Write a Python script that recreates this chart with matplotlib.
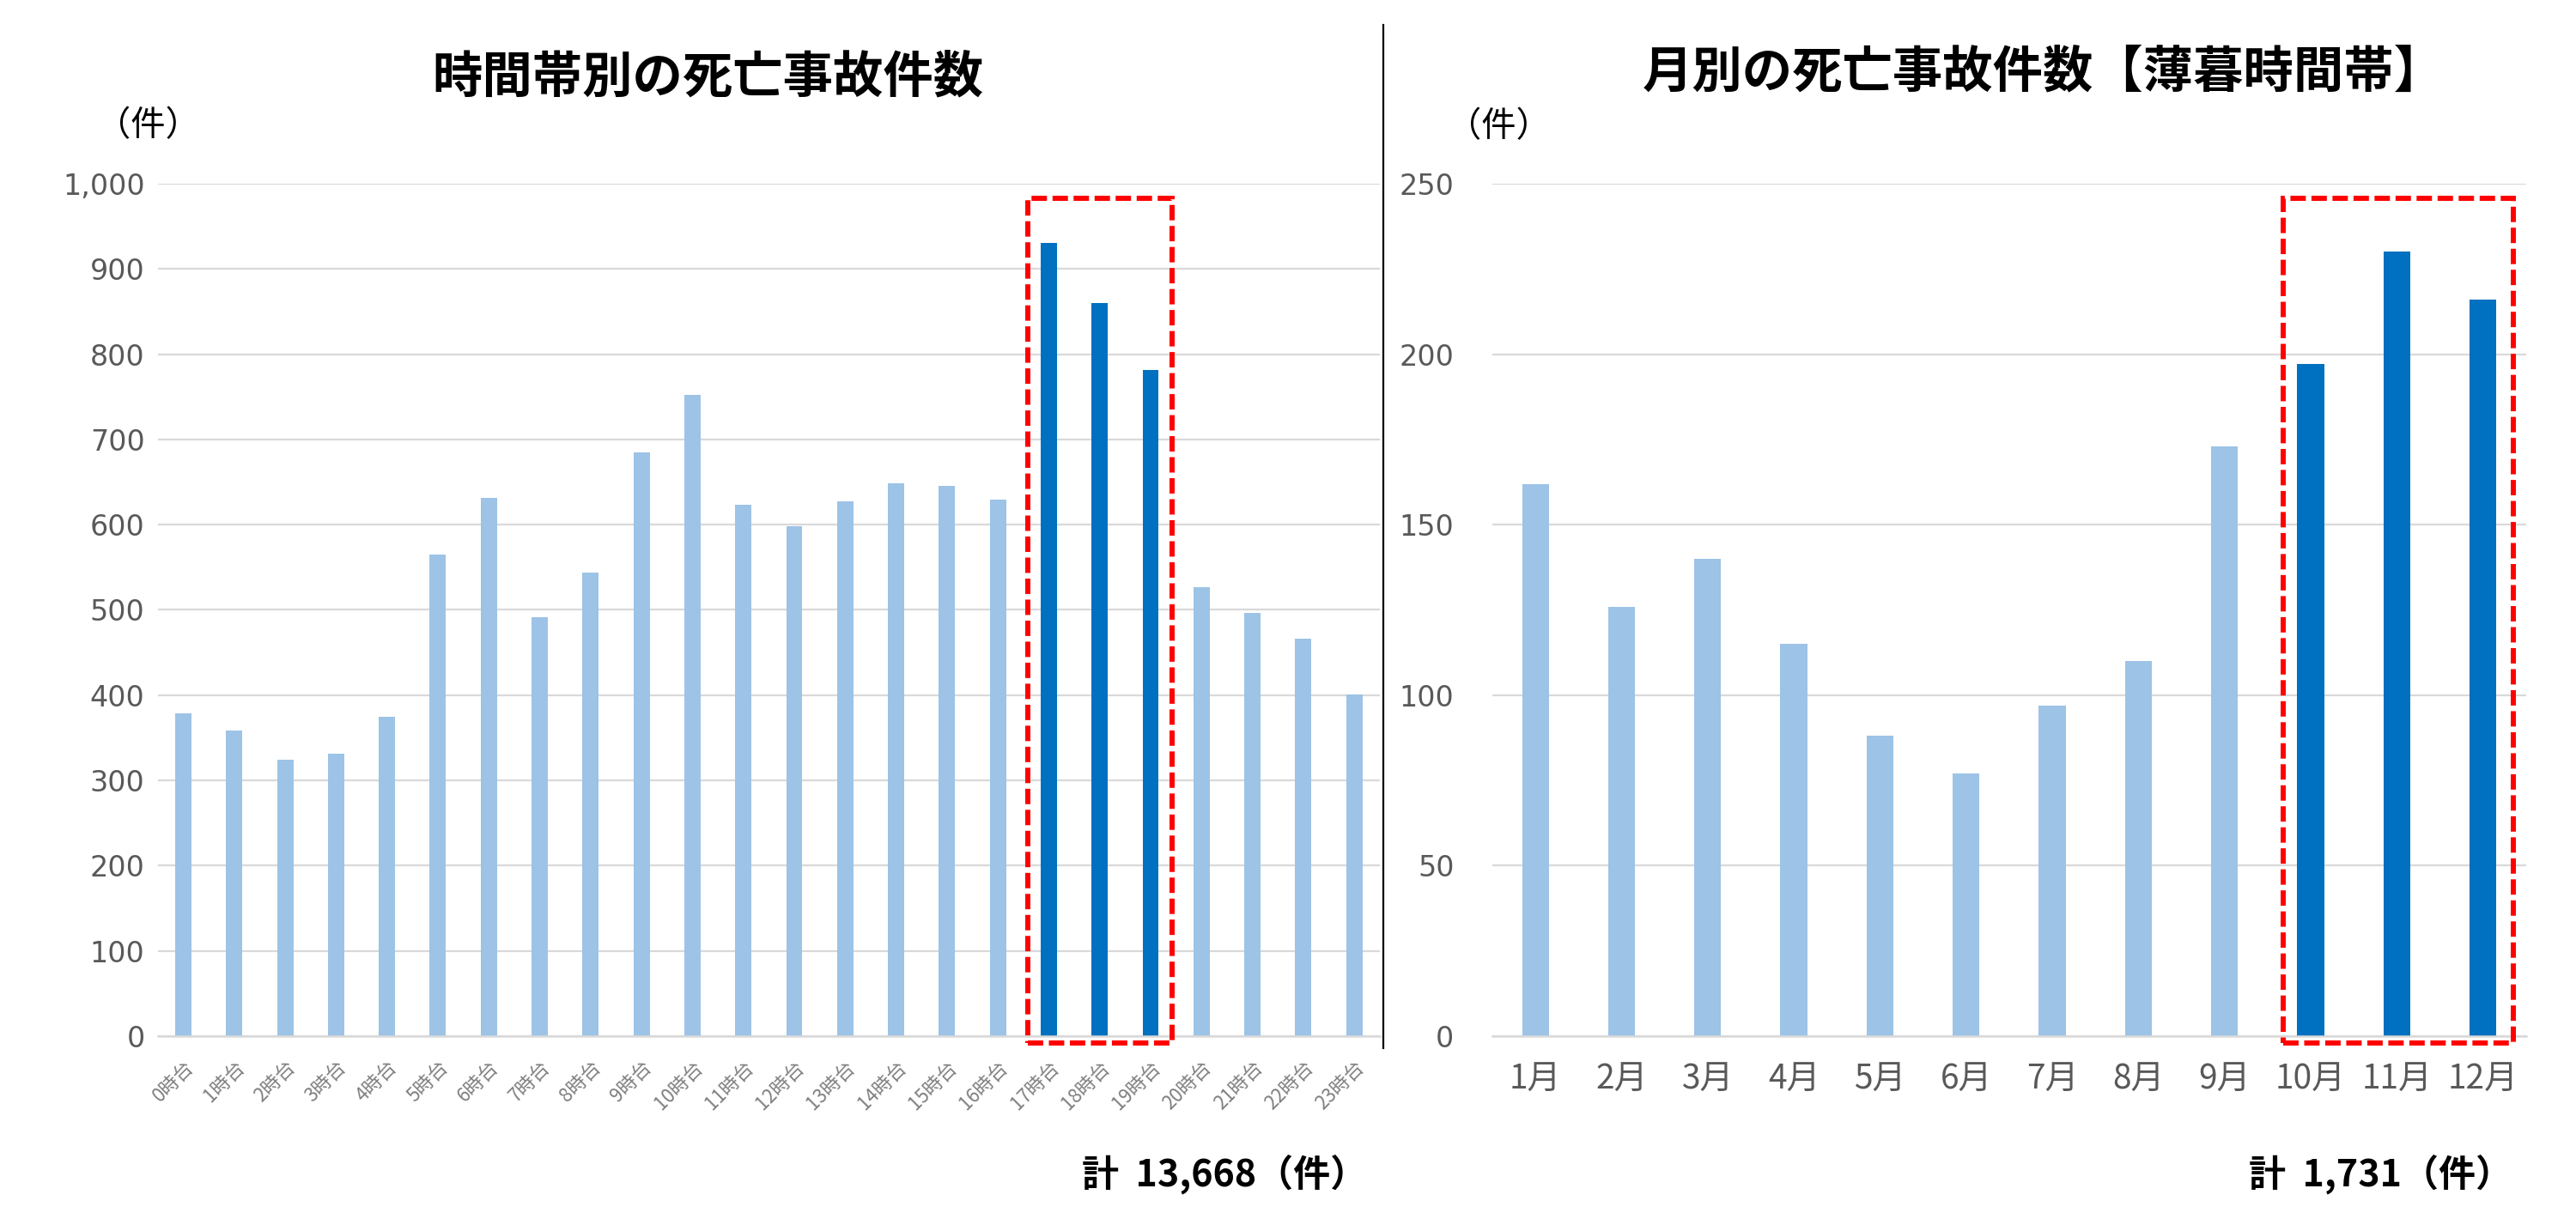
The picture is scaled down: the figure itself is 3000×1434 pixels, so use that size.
import matplotlib.pyplot as plt
from matplotlib.patches import Rectangle
from matplotlib.lines import Line2D
from matplotlib.ticker import FuncFormatter

plt.rcParams['font.family'] = ['DejaVu Sans', 'Noto Sans CJK JP']

# --- データ ---
hour_labels = [f"{h}時台" for h in range(24)]
hour_counts = [379, 358, 324, 331, 375, 565, 631, 491, 544, 685,
               752, 623, 598, 627, 649, 645, 629, 930, 860, 781,
               527, 496, 466, 401]
hour_total = "計  13,668（件）"

month_labels = [f"{m}月" for m in range(1, 13)]
month_counts = [162, 126, 140, 115, 88, 77, 97, 110, 173, 197, 230, 216]
month_total = "計  1,731（件）"

highlight_hours = [17, 18, 19]
highlight_months = [9, 10, 11]

LIGHT = "#9DC3E6"
DARK = "#0070C0"
GRID = "#D9D9D9"
TICK = "#595959"
JP = ['Noto Sans CJK JP', 'DejaVu Sans']

fig = plt.figure(figsize=(30, 14.34), dpi=100)

ax1 = fig.add_axes([0.0613, 0.1583, 0.4743, 0.6925])
ax2 = fig.add_axes([0.5793, 0.1583, 0.4013, 0.6925])


def style_axes(ax, ymax, step):
    ax.set_ylim(0, ymax)
    ax.set_yticks(range(0, ymax + 1, step))
    ax.yaxis.set_major_formatter(FuncFormatter(lambda v, p: f"{int(v):,}"))
    ax.grid(axis='y', color=GRID, linewidth=1.6, zorder=0)
    ax.set_axisbelow(True)
    for s in ['top', 'right', 'left']:
        ax.spines[s].set_visible(False)
    ax.spines['bottom'].set_color(GRID)
    ax.spines['bottom'].set_linewidth(1.8)
    ax.tick_params(axis='both', length=0, colors=TICK)


# 左: 時間帯別
cols1 = [DARK if i in highlight_hours else LIGHT for i in range(len(hour_counts))]
ax1.bar(range(len(hour_counts)), hour_counts, width=0.32, color=cols1, zorder=2)
ax1.set_xlim(-0.5, len(hour_counts) - 0.5)
style_axes(ax1, 1000, 100)
ax1.tick_params(axis='y', labelsize=24, pad=11)
ax1.set_xticks(range(len(hour_labels)))
ax1.set_xticklabels(hour_labels, rotation=45, ha='right', rotation_mode='anchor',
                    fontsize=16, color="#7F7F7F", family=JP)
ax1.tick_params(axis='x', pad=18)

# 右: 月別
cols2 = [DARK if i in highlight_months else LIGHT for i in range(len(month_counts))]
ax2.bar(range(len(month_counts)), month_counts, width=0.31, color=cols2, zorder=2)
ax2.set_xlim(-0.5, len(month_counts) - 0.5)
style_axes(ax2, 250, 50)
ax2.tick_params(axis='y', labelsize=24, pad=32)
ax2.set_xticks(range(len(month_labels)))
ax2.set_xticklabels(month_labels, fontsize=28, color=TICK, family=JP)
ax2.tick_params(axis='x', pad=22)

# 赤い点線の枠
ax1.add_patch(Rectangle((16.58, -8), 2.85, 991, fill=False, edgecolor="#FF0000",
                        linewidth=4.3, linestyle=(0, (3, 1.1)), clip_on=False, zorder=3))
ax2.add_patch(Rectangle((8.68, -2), 2.67, 247.7, fill=False, edgecolor="#FF0000",
                        linewidth=4.3, linestyle=(0, (3, 1.1)), clip_on=False, zorder=3))

# タイトル・単位
fig.text(824 / 3000, 1 - 90 / 1434, "時間帯別の死亡事故件数", ha='center', va='center',
         fontsize=42, fontweight='bold', family=JP)
fig.text(2380 / 3000, 1 - 84 / 1434, "月別の死亡事故件数【薄暮時間帯】", ha='center', va='center',
         fontsize=42, fontweight='bold', family=JP)
fig.text(172 / 3000, 1 - 147 / 1434, "（件）", ha='center', va='center', fontsize=29, family=JP)
fig.text(1745 / 3000, 1 - 148 / 1434, "（件）", ha='center', va='center', fontsize=29, family=JP)

fig.text(1592 / 3000, 1 - 1368 / 1434, hour_total, ha='right', va='center',
         fontsize=31, fontweight='bold', family=JP)
fig.text(2926 / 3000, 1 - 1368 / 1434, month_total, ha='right', va='center',
         fontsize=31, fontweight='bold', family=JP)

# 区切り線
fig.add_artist(Line2D([1611 / 3000, 1611 / 3000], [1 - 29 / 1434, 1 - 1221 / 1434],
                      color='black', linewidth=1.6, transform=fig.transFigure))

fig.savefig("out.png", dpi=100, facecolor='white')
